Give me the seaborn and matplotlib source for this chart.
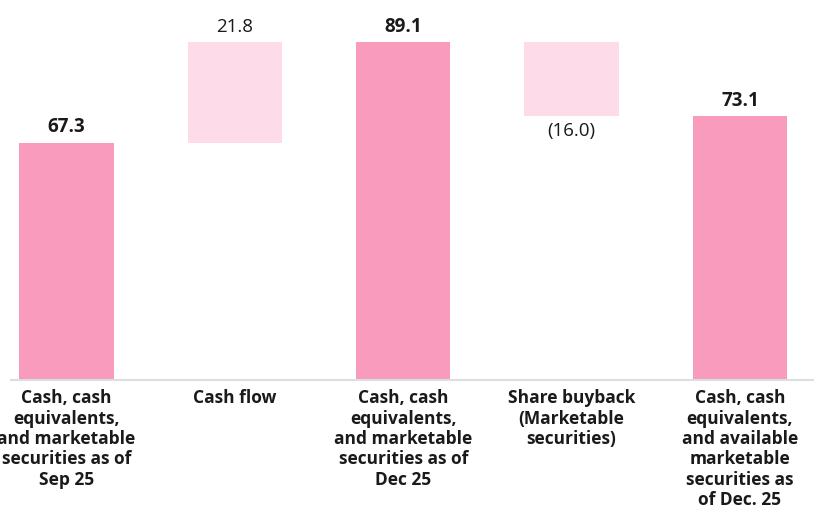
import matplotlib
matplotlib.use("Agg")
import matplotlib.pyplot as plt
import seaborn as sns
import pandas as pd

# Cash walk, $B
categories = [
    "Cash, cash\nequivalents,\nand marketable\nsecurities as of\nSep 25",
    "Cash flow",
    "Cash, cash\nequivalents,\nand marketable\nsecurities as of\nDec 25",
    "Share buyback\n(Marketable\nsecurities)",
    "Cash, cash\nequivalents,\nand available\nmarketable\nsecurities as\nof Dec. 25",
]
values = [67.3, 21.8, 89.1, -16.0, 73.1]
is_total = [True, False, True, False, True]
value_labels = ["67.3", "21.8", "89.1", "(16.0)", "73.1"]

TOTAL_COLOR = "#F89BBD"
STEP_COLOR = "#FDDBE9"
TEXT_COLOR = "#1A1A1A"

# floating bars start from the running total
bases, heights = [], []
running = 0.0
for v, tot in zip(values, is_total):
    if tot:
        bases.append(0.0)
        heights.append(v)
        running = v
    else:
        if v >= 0:
            bases.append(running)
            heights.append(v)
        else:
            bases.append(running + v)
            heights.append(-v)
        running += v

df = pd.DataFrame({"category": categories, "height": heights, "base": bases})

sns.set_style("white")
plt.rcParams["font.family"] = ["Open Sans", "DejaVu Sans"]

fig = plt.figure(figsize=(8.14, 5.11), dpi=100)
ax = fig.add_axes([11 / 814, (511 - 380.3) / 511, 1 - 11 / 814, 380.3 / 511])

sns.barplot(data=df, x="category", y="height", bottom=df["base"].values,
            color=TOTAL_COLOR, width=0.56, ax=ax, errorbar=None,
            linewidth=0, saturation=1)

for patch, tot in zip(ax.patches, is_total):
    patch.set_facecolor(TOTAL_COLOR if tot else STEP_COLOR)

# value labels
for i, (v, tot, lab, b, h) in enumerate(zip(values, is_total, value_labels, bases, heights)):
    if tot or v >= 0:
        ax.annotate(lab, (i, b + h), xytext=(0, 11), textcoords="offset points",
                    ha="center", va="center", fontsize=13.5, color=TEXT_COLOR,
                    fontweight="bold" if tot else "normal")
    else:
        ax.annotate(lab, (i, b), xytext=(0, -11), textcoords="offset points",
                    ha="center", va="center", fontsize=13.5, color=TEXT_COLOR)

ax.set_xlim(-0.33, 4.44)
ax.set_ylim(15.7, 98.3)
ax.set_xlabel("")
ax.set_ylabel("")
ax.set_yticks([])
for s in ["top", "right", "left"]:
    ax.spines[s].set_visible(False)
ax.spines["bottom"].set_color("#DCDFDF")
ax.spines["bottom"].set_linewidth(1.5)
ax.tick_params(axis="x", length=0, pad=6.5)
for t in ax.get_xticklabels():
    t.set_fontweight("bold")
    t.set_fontsize(12.5)
    t.set_color(TEXT_COLOR)
    t.set_linespacing(1.17)
    t.set_clip_on(False)

fig.savefig("out.png", dpi=100)
